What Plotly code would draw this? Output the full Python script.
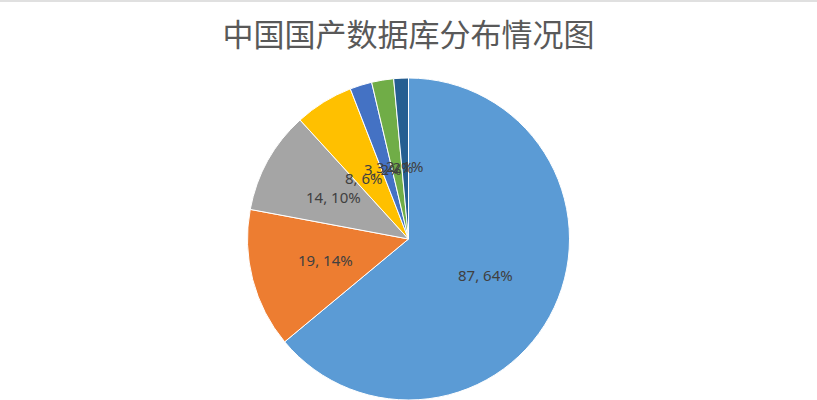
import math
import plotly.graph_objects as go

# 国产数据库数量分布
labels = ['A', 'B', 'C', 'D', 'E', 'F', 'G']
values = [87, 19, 14, 8, 3, 3, 2]
colors = ['#5B9BD5', '#ED7D31', '#A5A5A5', '#FFC000', '#4472C4', '#70AD47', '#255E91']

W, H = 817, 400
top, bottom = 78, 0
R = (H - top - bottom) / 2  # pie radius in px

fig = go.Figure()
fig.add_trace(go.Pie(labels=labels, values=values, sort=False, direction='clockwise',
                     rotation=0, marker=dict(colors=colors, line=dict(color='white', width=1)),
                     textinfo='none', hoverinfo='label+value+percent', showlegend=False))

# data labels like Excel: value, percent at ~half radius on each slice's middle angle
total = sum(values)
cum = 0
for v in values:
    mid = (cum + v / 2) / total * 2 * math.pi
    cum += v
    r = 0.53 * R
    dx = r * math.sin(mid) / W
    dy = r * math.cos(mid) / (H - top - bottom)
    fig.add_annotation(x=0.5 + dx, y=0.5 + dy, xref='paper', yref='paper',
                       text='%d, %d%%' % (v, round(v / total * 100)), showarrow=False,
                       font=dict(family='Noto Sans', size=15, color='#404040'))

fig.update_layout(width=W, height=H, paper_bgcolor='white',
                  margin=dict(l=0, r=0, t=top, b=bottom),
                  title=dict(text='中国国产数据库分布情况图', x=0.5, xanchor='center',
                             y=1-35/H, yanchor='middle', yref='container',
                             font=dict(family='Noto Sans CJK SC', size=31, color='#595959')))
fig.add_shape(type='rect', xref='paper', yref='paper', x0=0, x1=1,
              y0=1+(top-2)/(H-top-bottom), y1=1+top/(H-top-bottom),
              fillcolor='#E0E0E0', line=dict(width=0), layer='below')

fig.write_html('out.html', config={'displayModeBar': False},
               post_script="document.body.style.margin='0';")
